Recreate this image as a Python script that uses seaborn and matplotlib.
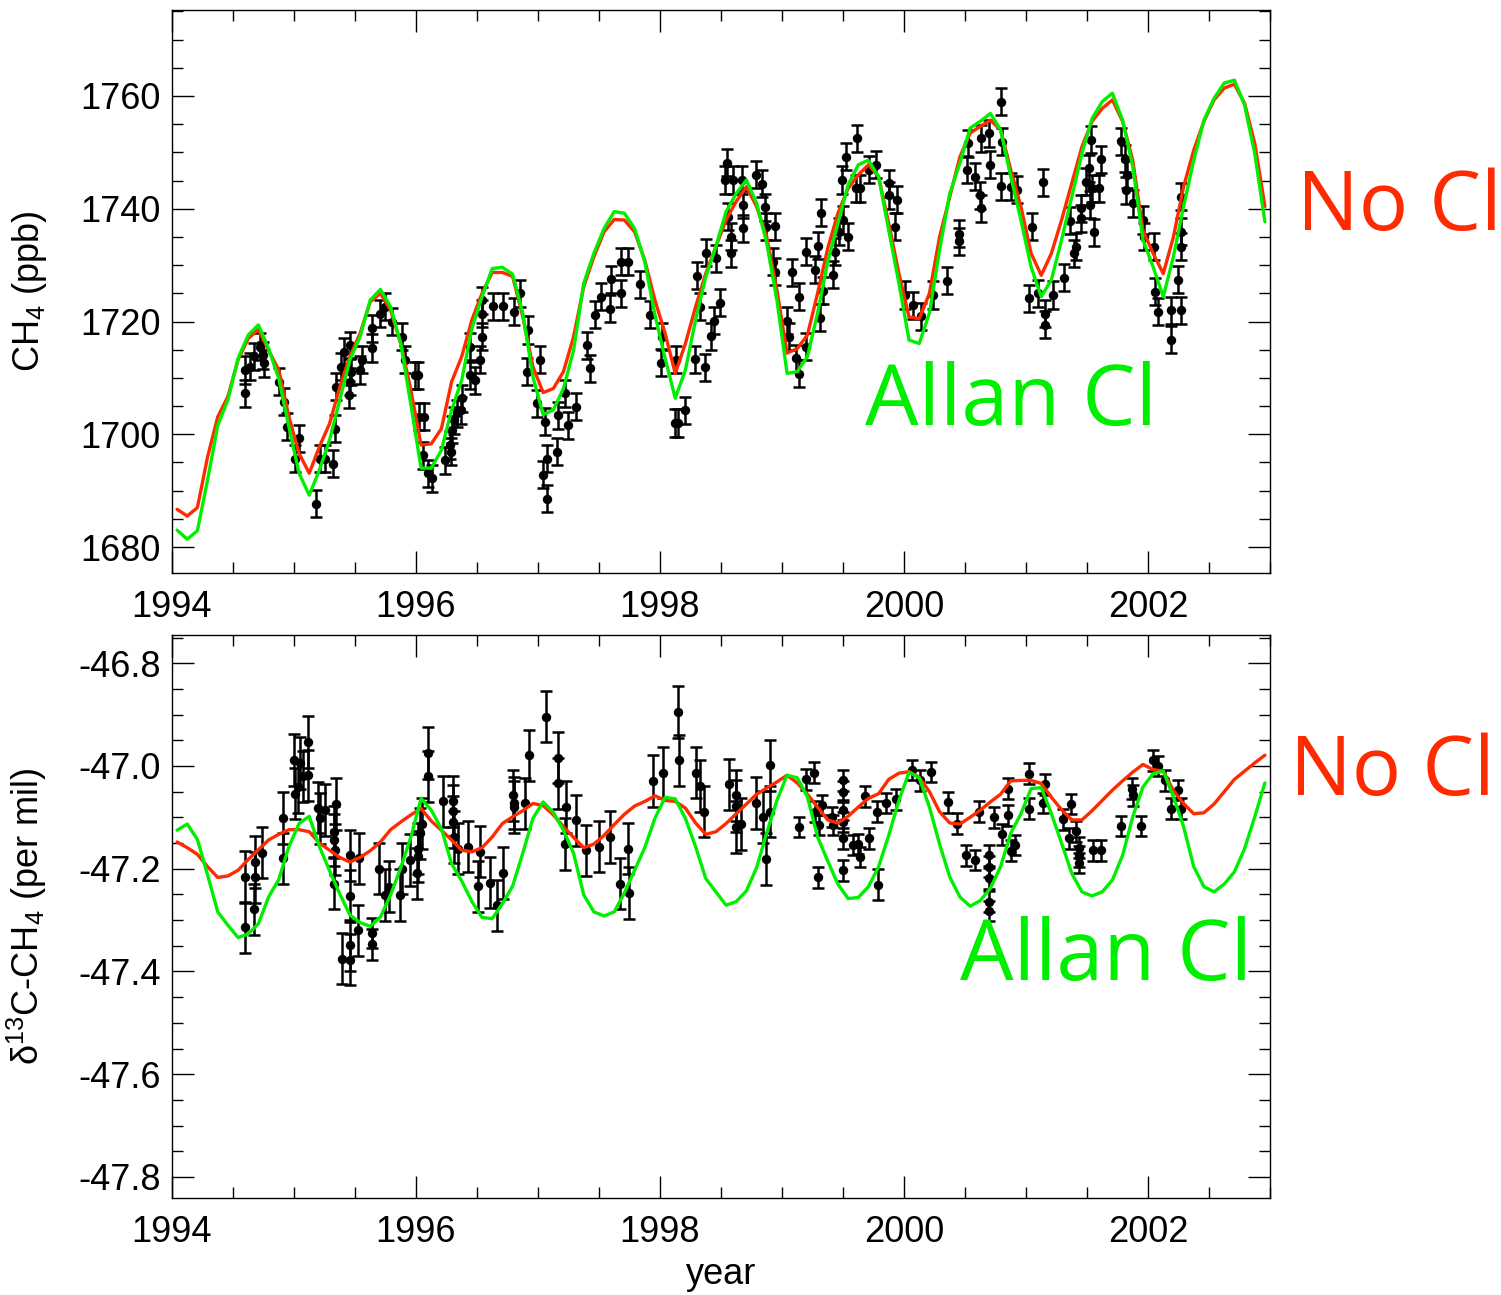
import numpy as np
import matplotlib
matplotlib.use("Agg")
import matplotlib.pyplot as plt
from matplotlib.ticker import MultipleLocator, FormatStrFormatter
import seaborn as sns

# ---------------- data ----------------
# model curves: monthly values (mid-month), Jan 1994 .. Dec 2002
ch4_nocl = [1686.7, 1685.5, 1687.0, 1696.0, 1703.1, 1706.7, 1713.2, 1717.0, 1718.6, 1714.9,
            1711.4, 1703.1, 1696.6, 1693.1, 1697.8, 1701.9, 1708.4, 1713.8, 1717.9, 1723.5,
            1725.0, 1722.0, 1716.1, 1707.8, 1698.1, 1698.3, 1701.0, 1709.3, 1713.8, 1720.3,
            1725.0, 1728.7, 1728.7, 1728.0, 1720.9, 1712.0, 1707.4, 1708.1, 1711.1, 1717.3,
            1726.2, 1731.5, 1735.9, 1738.1, 1738.0, 1735.9, 1730.9, 1723.8, 1717.9, 1710.8,
            1716.1, 1722.6, 1728.5, 1733.3, 1738.0, 1741.3, 1743.9, 1740.4, 1735.0, 1725.6,
            1714.4, 1715.2, 1717.6, 1725.0, 1733.0, 1739.2, 1743.6, 1746.0, 1747.8, 1745.7,
            1737.4, 1728.5, 1720.8, 1720.5, 1725.0, 1735.0, 1742.1, 1749.2, 1753.4, 1754.6,
            1755.7, 1754.0, 1746.9, 1740.4, 1732.1, 1728.2, 1732.1, 1738.0, 1744.5, 1751.0,
            1755.5, 1757.8, 1759.3, 1755.5, 1748.6, 1736.2, 1732.1, 1728.5, 1735.0, 1743.9,
            1750.4, 1755.5, 1759.3, 1761.4, 1762.1, 1758.7, 1751.6, 1740.4]
ch4_allan = [1683.0, 1681.4, 1682.9, 1691.9, 1701.6, 1706.1, 1713.5, 1717.6, 1719.4, 1715.2,
             1709.9, 1701.3, 1693.1, 1689.2, 1693.7, 1699.0, 1706.1, 1713.2, 1717.3, 1723.8,
             1725.7, 1722.6, 1716.1, 1705.2, 1694.0, 1694.0, 1697.2, 1704.3, 1709.6, 1718.8,
             1724.4, 1729.4, 1729.6, 1728.4, 1721.5, 1710.2, 1703.5, 1704.3, 1708.1, 1714.9,
             1726.8, 1732.1, 1736.5, 1739.5, 1739.2, 1736.5, 1730.6, 1721.2, 1713.5, 1706.4,
             1711.4, 1720.3, 1727.9, 1733.3, 1739.5, 1742.7, 1745.1, 1741.0, 1733.9, 1723.8,
             1710.8, 1711.1, 1713.8, 1721.5, 1730.6, 1737.4, 1744.2, 1747.8, 1748.6, 1745.7,
             1736.2, 1726.8, 1716.7, 1716.1, 1721.5, 1732.7, 1742.7, 1748.1, 1754.3, 1755.5,
             1756.9, 1754.0, 1745.7, 1738.0, 1729.7, 1724.4, 1727.4, 1734.5, 1742.1, 1749.8,
             1756.0, 1759.0, 1760.5, 1755.7, 1747.5, 1734.5, 1729.7, 1724.4, 1731.5, 1740.4,
             1748.6, 1755.7, 1759.6, 1762.3, 1762.8, 1758.4, 1749.8, 1737.7]
d13c_nocl = [-47.148, -47.159, -47.172, -47.196, -47.217, -47.214, -47.203, -47.182, -47.163, -47.144,
             -47.133, -47.124, -47.124, -47.128, -47.150, -47.164, -47.178, -47.187, -47.178, -47.165,
             -47.148, -47.124, -47.109, -47.095, -47.083, -47.107, -47.125, -47.144, -47.164, -47.167,
             -47.159, -47.138, -47.112, -47.099, -47.087, -47.073, -47.077, -47.095, -47.118, -47.139,
             -47.159, -47.152, -47.135, -47.114, -47.094, -47.078, -47.069, -47.058, -47.067, -47.069,
             -47.082, -47.111, -47.133, -47.128, -47.112, -47.093, -47.074, -47.055, -47.043, -47.031,
             -47.018, -47.033, -47.055, -47.080, -47.105, -47.111, -47.098, -47.080, -47.063, -47.054,
             -47.026, -47.014, -47.011, -47.022, -47.050, -47.089, -47.111, -47.113, -47.100, -47.086,
             -47.070, -47.055, -47.029, -47.028, -47.028, -47.034, -47.061, -47.085, -47.105, -47.105,
             -47.087, -47.067, -47.047, -47.029, -47.012, -46.997, -47.007, -47.010, -47.048, -47.073,
             -47.093, -47.091, -47.074, -47.050, -47.026, -47.010, -46.994, -46.979]
d13c_allan = [-47.125, -47.113, -47.143, -47.212, -47.284, -47.310, -47.334, -47.327, -47.307, -47.255,
              -47.221, -47.157, -47.112, -47.098, -47.157, -47.204, -47.249, -47.290, -47.305, -47.312,
              -47.294, -47.251, -47.198, -47.138, -47.063, -47.086, -47.122, -47.190, -47.224, -47.264,
              -47.295, -47.297, -47.268, -47.234, -47.170, -47.102, -47.070, -47.090, -47.125, -47.170,
              -47.251, -47.284, -47.292, -47.284, -47.247, -47.203, -47.159, -47.102, -47.061, -47.064,
              -47.102, -47.157, -47.219, -47.245, -47.271, -47.264, -47.243, -47.198, -47.130, -47.067,
              -47.018, -47.023, -47.060, -47.138, -47.185, -47.230, -47.258, -47.256, -47.235, -47.196,
              -47.135, -47.067, -47.012, -47.023, -47.080, -47.152, -47.216, -47.255, -47.273, -47.262,
              -47.238, -47.196, -47.131, -47.093, -47.044, -47.042, -47.093, -47.150, -47.209, -47.245,
              -47.253, -47.245, -47.222, -47.174, -47.099, -47.041, -47.015, -47.010, -47.060, -47.118,
              -47.196, -47.235, -47.245, -47.230, -47.206, -47.161, -47.099, -47.033]
model_year = 1994 + (np.arange(len(ch4_nocl)) + 0.5) / 12.0

# observations: CH4 (ppb)
ch4_obs_year = [1994.595, 1994.601, 1994.642, 1994.669, 1994.723, 1994.743, 1994.751, 1994.879, 1994.915, 1994.942,
                1995.005, 1995.037, 1995.179, 1995.215, 1995.256, 1995.316, 1995.338, 1995.343, 1995.384, 1995.406,
                1995.447, 1995.455, 1995.466, 1995.461, 1995.542, 1995.556, 1995.638, 1995.638, 1995.706, 1995.747,
                1995.802, 1995.884, 1995.911, 1995.993, 1996.020, 1996.026, 1996.067, 1996.061, 1996.102, 1996.135,
                1996.239, 1996.280, 1996.288, 1996.299, 1996.315, 1996.334, 1996.370, 1996.375, 1996.443, 1996.443,
                1996.484, 1996.525, 1996.539, 1996.539, 1996.539, 1996.634, 1996.716, 1996.806, 1996.853, 1996.921,
                1996.907, 1996.989, 1997.017, 1997.058, 1997.071, 1997.044, 1997.071,
                1997.164, 1997.156, 1997.219, 1997.246, 1997.314, 1997.404, 1997.423, 1997.470, 1997.514, 1997.593,
                1997.601, 1997.677, 1997.683, 1997.737, 1997.833, 1997.915, 1998.010, 1998.019, 1998.133, 1998.125,
                1998.147, 1998.207, 1998.283, 1998.365, 1998.303, 1998.324, 1998.379, 1998.420, 1998.439, 1998.461,
                1998.488, 1998.529, 1998.548, 1998.597, 1998.556, 1998.584, 1998.584, 1998.671, 1998.679, 1998.679,
                1998.789, 1998.835, 1998.857, 1998.870, 1998.939, 1998.925, 1998.939, 1999.042, 1999.056, 1999.081,
                1999.116, 1999.143, 1999.143, 1999.198, 1999.198, 1999.274, 1999.294, 1999.321, 1999.340, 1999.315,
                1999.416, 1999.438, 1999.466, 1999.490, 1999.504, 1999.526, 1999.539, 1999.613, 1999.607, 1999.640,
                1999.717, 1999.771, 1999.875, 1999.875, 1999.941, 1999.930, 2000.012, 2000.072,
                2000.139, 2000.235, 2000.352, 2000.448, 2000.448, 2000.516, 2000.522, 2000.584, 2000.625, 2000.631,
                2000.631, 2000.699, 2000.705, 2000.795, 2000.803, 2000.795, 2000.877, 2000.923, 2001.049, 2001.136,
                2001.027, 2001.095, 2001.158, 2001.158, 2001.218, 2001.313, 2001.360, 2001.395, 2001.409, 2001.450,
                2001.450, 2001.491, 2001.513, 2001.532, 2001.526, 2001.545, 2001.559, 2001.614, 2001.595, 2001.778,
                2001.813, 2001.824, 2001.818, 2001.873, 2001.955, 2001.968, 2002.050, 2002.059, 2002.086, 2002.187,
                2002.187, 2002.250, 2002.269, 2002.269, 2002.269, 2002.269]
ch4_obs = [1711.4, 1707.3, 1712.0, 1713.8, 1715.5, 1714.0, 1712.6, 1709.3, 1705.8, 1701.3,
           1695.7, 1699.3, 1687.7, 1695.7, 1695.7, 1694.8, 1701.0, 1708.4, 1712.0, 1714.6,
           1707.0, 1709.3, 1711.1, 1715.8, 1711.4, 1713.2, 1715.3, 1718.8, 1721.4, 1722.6,
           1720.0, 1717.3, 1713.2, 1710.5, 1710.5, 1703.1, 1703.1, 1696.3, 1693.1, 1692.2,
           1695.4, 1698.1, 1696.9, 1700.8, 1702.5, 1703.7, 1704.3, 1706.4, 1715.5, 1710.5,
           1709.6, 1713.2, 1717.3, 1721.4, 1723.8, 1722.7, 1722.7, 1721.7, 1725.0, 1718.5,
           1711.1, 1705.5, 1713.2, 1702.2, 1695.7, 1692.8, 1688.6,
           1703.4, 1696.9, 1707.3, 1701.6, 1704.9, 1715.8, 1711.7, 1721.2, 1724.4, 1722.3,
           1727.5, 1725.0, 1730.6, 1730.6, 1726.6, 1721.2, 1712.7, 1717.3, 1713.2, 1702.0,
           1702.0, 1704.3, 1713.3, 1711.9, 1728.1, 1722.6, 1732.2, 1717.4, 1720.1, 1731.2,
           1723.3, 1745.1, 1748.2, 1745.1, 1738.6, 1735.0, 1732.1, 1745.1, 1740.7, 1736.5,
           1746.0, 1744.4, 1740.3, 1736.8, 1736.9, 1730.6, 1728.8, 1720.1, 1717.3, 1728.7,
           1713.5, 1724.4, 1710.7, 1732.4, 1715.5, 1729.2, 1733.4, 1739.3, 1725.5, 1720.7,
           1728.3, 1732.4, 1735.9, 1745.1, 1738.0, 1749.2, 1735.0, 1752.5, 1743.6, 1743.6,
           1746.9, 1747.8, 1744.5, 1742.4, 1741.6, 1736.8, 1724.7, 1722.9,
           1720.9, 1724.7, 1727.2, 1734.2, 1735.6, 1746.9, 1751.6, 1745.7, 1742.4, 1740.1,
           1752.5, 1753.4, 1747.8, 1759.0, 1751.9, 1744.0, 1743.9, 1743.4, 1736.8, 1744.7,
           1724.1, 1725.0, 1721.4, 1719.4, 1724.7, 1727.8, 1737.9, 1732.1, 1733.3, 1738.3,
           1740.1, 1744.8, 1747.2, 1752.2, 1740.7, 1743.6, 1735.8, 1748.8, 1743.6, 1752.0,
           1748.9, 1746.0, 1743.3, 1741.0, 1738.0, 1735.0, 1733.3, 1725.3, 1721.7, 1722.0,
           1716.8, 1727.4, 1742.1, 1735.9, 1733.3, 1722.0]
ch4_err = 2.4

# observations: d13C-CH4 (per mil)
d13c_obs_year = [1994.595, 1994.595, 1994.669, 1994.682, 1994.682, 1994.737, 1994.909, 1994.909, 1994.996, 1995.010,
                 1995.032, 1995.051, 1995.070, 1995.114, 1995.114, 1995.196, 1995.215, 1995.256, 1995.324, 1995.324,
                 1995.332, 1995.343, 1995.324, 1995.392, 1995.455, 1995.455, 1995.461, 1995.461, 1995.521, 1995.534,
                 1995.638, 1995.643, 1995.698, 1995.747, 1995.775, 1995.870, 1995.884, 1995.952, 1996.007, 1996.015,
                 1996.020, 1996.034, 1996.047, 1996.097, 1996.102, 1996.225, 1996.301, 1996.301, 1996.307, 1996.315,
                 1996.348, 1996.430, 1996.506, 1996.525, 1996.607, 1996.662, 1996.716, 1996.798, 1996.806, 1996.806,
                 1996.894, 1996.927, 1997.063, 1997.164, 1997.164, 1997.227, 1997.219, 1997.309, 1997.396, 1997.500,
                 1997.593, 1997.675, 1997.737, 1997.746, 1997.942, 1998.024, 1998.147, 1998.155, 1998.292, 1998.324,
                 1998.360, 1998.565, 1998.625, 1998.625, 1998.625, 1998.666, 1998.783, 1998.843, 1998.865, 1998.898,
                 1998.898, 1999.138, 1999.198, 1999.266, 1999.274, 1999.307, 1999.293, 1999.329, 1999.411, 1999.416,
                 1999.504, 1999.504, 1999.504, 1999.504, 1999.504, 1999.504, 1999.586, 1999.621, 1999.640, 1999.717,
                 1999.684, 1999.785, 1999.777, 1999.853, 1999.935, 2000.066, 2000.131, 2000.221, 2000.358, 2000.432,
                 2000.508, 2000.584, 2000.617, 2000.694, 2000.694, 2000.694, 2000.694, 2000.694, 2000.740, 2000.803,
                 2000.849, 2000.849, 2000.877, 2000.912, 2001.027, 2001.027, 2001.136, 2001.158, 2001.305, 2001.349,
                 2001.368, 2001.409, 2001.431, 2001.436, 2001.431, 2001.551, 2001.614, 2001.778, 2001.868, 2001.873,
                 2001.941, 2002.042, 2002.086, 2002.141, 2002.187, 2002.250, 2002.269]
d13c_obs = [-47.216, -47.314, -47.279, -47.217, -47.187, -47.169, -47.101, -47.180, -46.988, -47.054,
            -47.041, -46.994, -47.020, -46.953, -47.018, -47.081, -47.102, -47.086, -47.128, -47.144,
            -47.163, -47.074, -47.229, -47.375, -47.377, -47.349, -47.253, -47.174, -47.320, -47.180,
            -47.325, -47.347, -47.200, -47.251, -47.235, -47.251, -47.200, -47.183, -47.209, -47.176,
            -47.161, -47.131, -47.112, -47.020, -46.975, -47.069, -47.069, -47.087, -47.109, -47.138,
            -47.161, -47.157, -47.234, -47.167, -47.227, -47.271, -47.208, -47.057, -47.072, -47.080,
            -47.073, -46.979, -46.904, -46.984, -47.034, -47.080, -47.152, -47.106, -47.164, -47.157,
            -47.138, -47.229, -47.161, -47.247, -47.029, -47.013, -46.895, -46.989, -47.013, -47.039,
            -47.089, -47.036, -47.057, -47.078, -47.119, -47.113, -47.072, -47.099, -47.181, -46.999,
            -47.089, -47.119, -47.026, -47.013, -47.089, -47.115, -47.217, -47.076, -47.099, -47.115,
            -47.028, -47.050, -47.086, -47.109, -47.141, -47.203, -47.154, -47.152, -47.177, -47.141,
            -47.059, -47.231, -47.089, -47.072, -47.065, -47.008, -47.028, -47.012, -47.071, -47.112,
            -47.174, -47.183, -47.089, -47.174, -47.196, -47.219, -47.264, -47.282, -47.100, -47.133,
            -47.044, -47.096, -47.165, -47.154, -47.015, -47.083, -47.072, -47.036, -47.104, -47.141,
            -47.074, -47.127, -47.159, -47.176, -47.189, -47.164, -47.164, -47.117, -47.044, -47.057,
            -47.117, -46.989, -47.000, -47.028, -47.083, -47.047, -47.083]
d13c_err = [0.05] * 30 + [0.03, 0.03] + [0.05] * 59 + [0.02] * 20 + [0.03] + [0.02] * 45

x_ticks = [1994, 1996, 1998, 2000, 2002]
ch4_ticks = [1680, 1700, 1720, 1740, 1760]
d13c_ticks = [-47.8, -47.6, -47.4, -47.2, -47.0, -46.8]

RED = "#ff2a00"
GREEN = "#00ee00"

# ---------------- figure ----------------
sns.set_style("ticks")
plt.rcParams["font.family"] = ["Liberation Sans", "DejaVu Sans"]
plt.rcParams["mathtext.fontset"] = "custom"
plt.rcParams["mathtext.rm"] = "Liberation Sans"
plt.rcParams["mathtext.it"] = "Liberation Sans"
plt.rcParams["mathtext.default"] = "regular"
for key in ["text.color", "axes.labelcolor", "xtick.color", "ytick.color", "axes.edgecolor"]:
    plt.rcParams[key] = "black"

fig = plt.figure(figsize=(15.01, 12.95), dpi=100)
ax1 = fig.add_axes([0.11459, 0.55753, 0.73151, 0.43475])
ax2 = fig.add_axes([0.11459, 0.07490, 0.73151, 0.43475])


def style_axis(ax, ymajor, yminor):
    ax.set_xlim(1994, 2003)
    ax.xaxis.set_major_locator(MultipleLocator(2))
    ax.xaxis.set_minor_locator(MultipleLocator(0.5))
    ax.yaxis.set_major_locator(MultipleLocator(ymajor))
    ax.yaxis.set_minor_locator(MultipleLocator(yminor))
    ax.tick_params(which="both", direction="in", top=True, right=True,
                   width=1.0, color="black", labelcolor="black")
    ax.tick_params(which="major", length=15.5)
    ax.tick_params(which="minor", length=7.8)
    ax.tick_params(axis="x", which="major", labelsize=26, pad=12)
    ax.tick_params(axis="y", which="major", labelsize=26, pad=8)
    for s in ax.spines.values():
        s.set_linewidth(1.0)
        s.set_color("black")
    ax.grid(False)


def draw_panel(ax, obs_x, obs_y, obs_err, nocl, allan):
    ax.errorbar(obs_x, obs_y, yerr=obs_err, fmt="none", ecolor="black",
                elinewidth=1.8, capsize=4.2, capthick=1.8, zorder=2)
    sns.scatterplot(x=obs_x, y=obs_y, ax=ax, color="black", s=46,
                    edgecolor="black", linewidth=0, zorder=3, legend=False)
    sns.lineplot(x=model_year, y=nocl, ax=ax, color=RED, lw=2.4,
                 sort=False, estimator=None, zorder=4, legend=False)
    sns.lineplot(x=model_year, y=allan, ax=ax, color=GREEN, lw=2.4,
                 sort=False, estimator=None, zorder=5, legend=False)


draw_panel(ax1, ch4_obs_year, ch4_obs, ch4_err, ch4_nocl, ch4_allan)
style_axis(ax1, 20, 5)
ax1.set_ylim(1675.4, 1775.25)
ax1.set_xticks(x_ticks)
ax1.set_yticks(ch4_ticks)
ax1.set_ylabel("CH$_4$ (ppb)", fontsize=26, color="black")
ax1.yaxis.set_label_coords(-0.112, 0.5)
ax1.set_xlabel("")

draw_panel(ax2, d13c_obs_year, d13c_obs, d13c_err, d13c_nocl, d13c_allan)
style_axis(ax2, 0.2, 0.05)
ax2.set_ylim(-47.841, -46.745)
ax2.set_xticks(x_ticks)
ax2.set_yticks(d13c_ticks)
ax2.yaxis.set_major_formatter(FormatStrFormatter("%.1f"))
ax2.set_ylabel("δ$^{13}$C-CH$_4$ (per mil)", fontsize=26, color="black")
ax2.yaxis.set_label_coords(-0.112, 0.5)
ax2.set_xlabel("year", fontsize=26, color="black")
ax2.xaxis.set_label_coords(0.5, -0.105)

label_font = ["Open Sans", "DejaVu Sans"]
fig.text(0.8641, 0.8224, "No Cl", color=RED, fontsize=59, family=label_font,
         ha="left", va="baseline")
fig.text(0.5763, 0.6718, "Allan Cl", color=GREEN, fontsize=61, family=label_font,
         ha="left", va="baseline")
fig.text(0.8594, 0.3861, "No Cl", color=RED, fontsize=59, family=label_font,
         ha="left", va="baseline")
fig.text(0.6396, 0.2432, "Allan Cl", color=GREEN, fontsize=61, family=label_font,
         ha="left", va="baseline")

fig.savefig("out.png", dpi=100)
